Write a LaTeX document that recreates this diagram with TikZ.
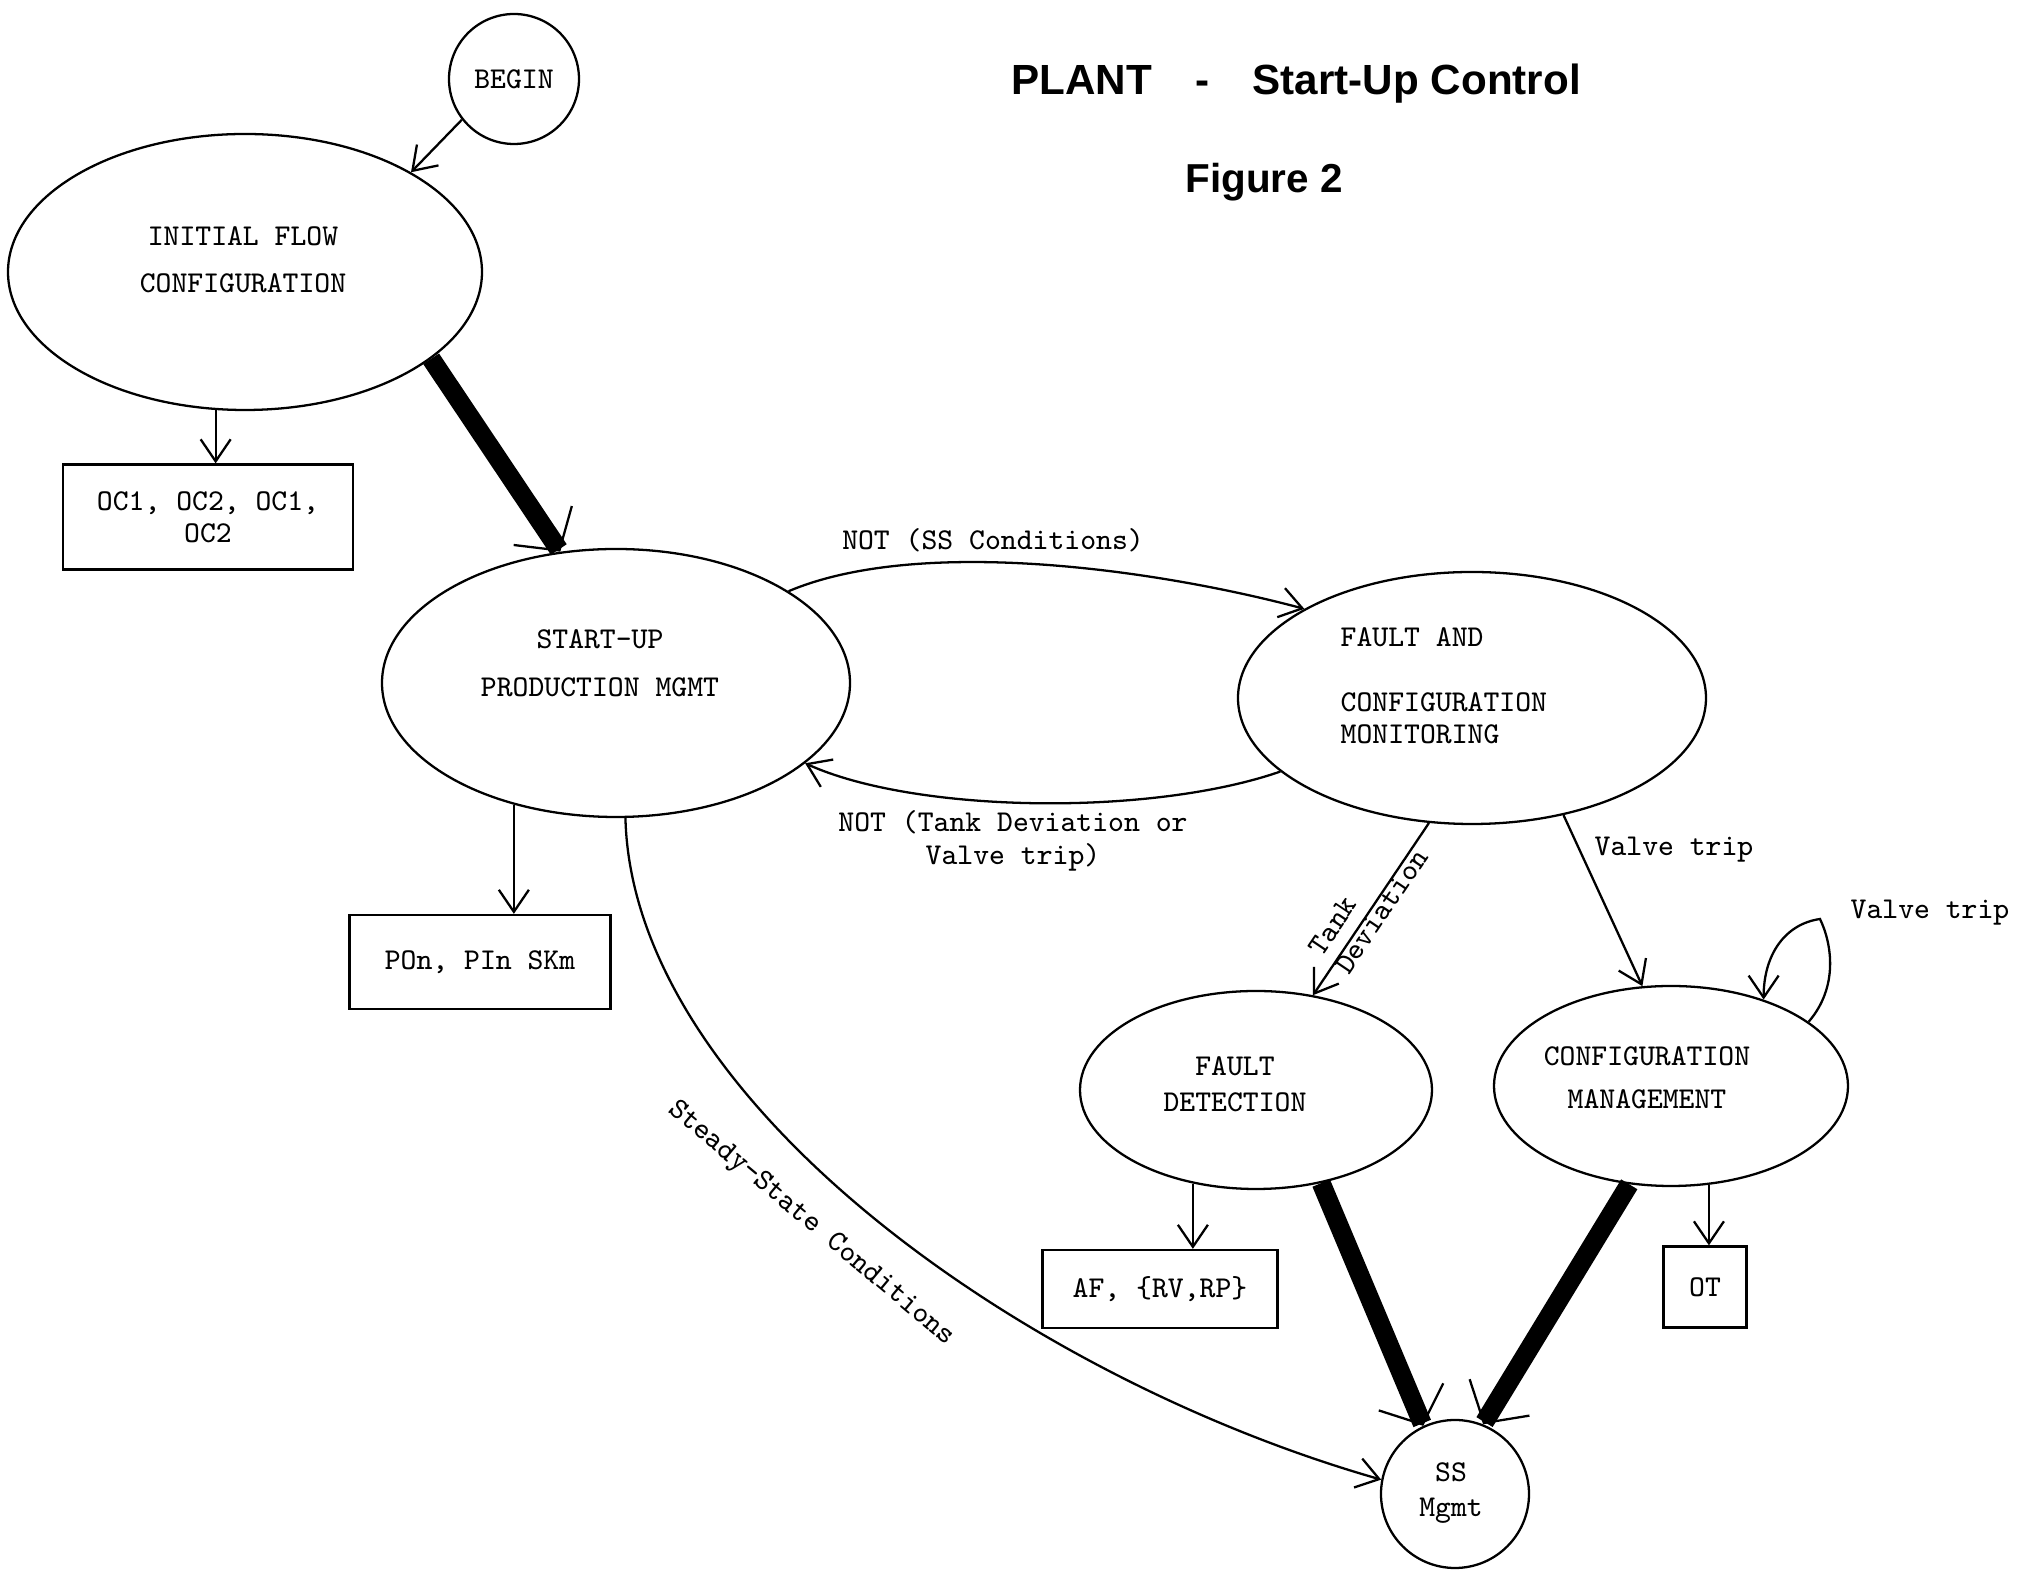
\documentclass[tikz,border=0pt]{standalone}
\usepackage{fontspec}
\newfontfamily\titlefont{Liberation Sans}
\usetikzlibrary{arrows.meta,shapes.geometric}

\begin{document}
\begin{tikzpicture}[x=0.1mm,y=-0.1mm,
  every node/.style={font=\ttfamily\fontsize{8.6}{9.2}\selectfont},
  proc/.style={draw,ellipse,line width=0.65pt,inner sep=0pt},
  outbox/.style={draw,rectangle,line width=0.65pt,inner sep=0pt,align=center},
  txt/.style={align=center,inner sep=0pt},
  flow/.style={-{Straight Barb[length=2.2mm,width=3mm]},line width=0.65pt},
  mainflow/.style={-{Straight Barb[length=3mm,width=7mm,line width=0.65pt]},line width=5.4pt},
  headline/.style={font=\titlefont\bfseries\fontsize{12}{14}\selectfont}]

\useasboundingbox (0,0) rectangle (2026,1570);

% title:
\node[headline] (title) at (1296,84) {PLANT\hspace{4.4mm}-\hspace{4.3mm}Start-Up Control};
\node[headline,font=\titlefont\bfseries\fontsize{11.5}{14}\selectfont] (fignum) at (1264,182) {Figure 2};

% states:
\node[proc,minimum width=13mm,minimum height=13mm] (begin) at (514,79) {BEGIN};
\node[proc,minimum width=47.4mm,minimum height=27.6mm] (ifc) at (245,272) {};
\node[txt] (ifc-t) at (243,260) {INITIAL FLOW\\[1.5mm]CONFIGURATION};
\node[proc,minimum width=46.8mm,minimum height=26.8mm] (su) at (616,683) {};
\node[txt] (su-t) at (600,663) {START-UP\\[1.6mm]PRODUCTION MGMT};
\node[proc,minimum width=46.8mm,minimum height=25.2mm] (fcm) at (1472,698) {};
\node[txt,align=left,anchor=west] (fcm-t) at (1340,686) {FAULT AND\\[3.2mm]CONFIGURATION\\MONITORING};
\node[proc,minimum width=35.2mm,minimum height=19.8mm] (fd) at (1256,1090) {};
\node[txt] (fd-t) at (1235,1084) {FAULT\\[0.4mm]DETECTION};
\node[proc,minimum width=35.4mm,minimum height=20mm] (cm) at (1671,1086) {};
\node[txt] (cm-t) at (1647,1078) {CONFIGURATION\\[1.1mm]MANAGEMENT};
\node[proc,minimum width=14.8mm,minimum height=14.8mm] (ss) at (1455,1494) {};
\node[txt] (ss-t) at (1451,1493) {SS\\[0.2mm]Mgmt};

% outputs:
\node[outbox,minimum width=29mm,minimum height=10.5mm] (oc) at (208,517) {OC1, OC2, OC1,\\OC2};
\node[outbox,minimum width=26.1mm,minimum height=9.4mm] (po) at (480,962) {POn, PIn SKm};
\node[outbox,minimum width=23.5mm,minimum height=7.8mm] (af) at (1160,1289) {AF, \{RV,RP\}};
\node[outbox,minimum width=8.3mm,minimum height=8.1mm] (ot) at (1705,1287) {OT};

% transitions:
\draw[flow] (begin.218) -- (ifc.31);
\draw[flow] (ifc.258) -- (ifc.258 |- oc.north);
\draw[mainflow] (ifc.-25) -- (su.113);
\draw[flow] (su.28) .. controls +(130,-55) and +(-150,-40) .. (fcm.152);
\draw[flow] (fcm.201) .. controls +(-130,45) and +(110,50) .. (su.337);
\draw[flow] (su.230) -- (su.230 |- po.north);
\draw[flow] (su.274) .. controls +(7,281) and +(-360,-103) .. (ss.169);
\draw[flow] (fcm.251) -- (fd.59);
\draw[flow] (fcm.308) -- (cm.106);
\coordinate (looptop) at (1820,919);
\draw[flow] (cm.25) .. controls +(30,-35) and +(12,25) .. (looptop)
  .. controls +(-35,5) and +(0,-45) .. (cm.43);
\draw[flow] (fd.236) -- (fd.236 |- af.north);
\draw[flow] (cm.291) -- (cm.291 |- ot.north);
\draw[mainflow] (fd.305) -- (ss.115);
\draw[mainflow] (cm.247) -- (ss.68);

% conditions:
\node[txt] (l-notss) at (993,540) {NOT (SS Conditions)};
\node[txt] (l-nottank) at (1013,841) {NOT (Tank Deviation or\\Valve trip)};
\node[txt,align=left,rotate=56] (l-tank) at (1368,902) {Tank\\Deviation};
\node[txt] (l-valve) at (1674,850) {Valve trip};
\node[txt] (l-loop) at (1930,913) {Valve trip};
\node[txt,rotate=-40] (l-steady) at (811,1224) {Steady-State Conditions};

\end{tikzpicture}
\end{document}
